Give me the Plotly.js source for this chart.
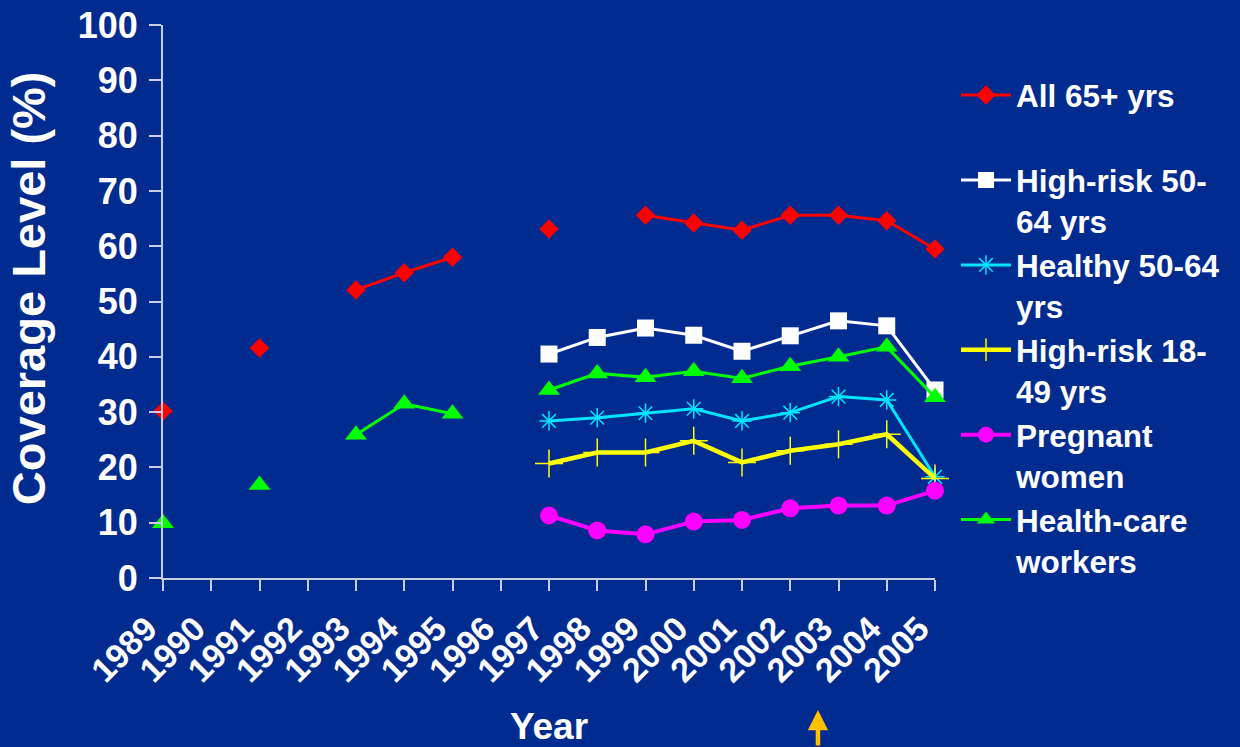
<!DOCTYPE html>
<html>
<head>
<meta charset="utf-8">
<script src="https://cdn.plot.ly/plotly-3.0.1.min.js"></script>
<style>
html,body{margin:0;padding:0;background:#022b90;}
#chart{width:1240px;height:747px;}
</style>
</head>
<body>
<div id="chart"></div>
<script>
const years = [1989,1990,1991,1992,1993,1994,1995,1996,1997,1998,1999,2000,2001,2002,2003,2004,2005];
const tickLabels = years.map(String);
const all65 = [30.2,null,41.6,null,52.1,55.2,58.0,null,63.1,null,65.6,64.2,62.9,65.6,65.6,64.6,59.5];
const highRisk5064 = [null,null,null,null,null,null,null,null,40.5,43.5,45.2,43.9,41.0,43.8,46.5,45.6,34.0];
const healthy5064 = [null,null,null,null,null,null,null,null,28.4,29.0,29.8,30.6,28.4,29.9,32.8,32.2,18.3];
const highRisk1849 = [null,null,null,null,null,null,null,null,20.7,22.7,22.7,24.8,20.9,23.0,24.2,26.0,18.0];
const pregnant = [null,null,null,null,null,null,null,null,11.3,8.6,7.9,10.2,10.5,12.6,13.1,13.1,15.8];
const healthCare = [9.9,null,16.8,null,25.9,31.5,29.7,null,34.0,37.0,36.3,37.4,36.1,38.3,40.0,41.8,32.7];
const seriesNames = ["All 65+ yrs<br>\u00a0","High-risk 50-<br>64 yrs","Healthy 50-64<br>yrs","High-risk 18-<br>49 yrs","Pregnant<br>women","Health-care<br>workers"];

const FONT = "'Liberation Sans', Arial, sans-serif";
function tr(y, name, color, lw, symbol, size, mline){
  const m = {symbol: symbol, size: size, color: color};
  if (mline) m.line = {color: color, width: mline};
  return {x: years, y: y, name: name, type: 'scatter', mode: 'lines+markers',
    line: {color: color, width: lw}, marker: m, connectgaps: false, cliponaxis: false};
}
const data = [
  tr(all65, seriesNames[0], '#FF0000', 3, 'diamond', 15),
  tr(highRisk5064, seriesNames[1], '#FFFFFF', 3, 'square', 17),
  tr(healthy5064, seriesNames[2], '#00E5FF', 3, 'asterisk-open', 16, 1.5),
  tr(highRisk1849, seriesNames[3], '#FFFF00', 4.5, 'cross-thin-open', 20, 1.5),
  tr(pregnant, seriesNames[4], '#FF00FF', 4, 'circle', 18),
  tr(healthCare, seriesNames[5], '#00FF00', 3, 'triangle-up', 19)
];
const axisColor = '#C8CDE0';
const layout = {
  width: 1240, height: 747,
  paper_bgcolor: '#022b90', plot_bgcolor: 'rgba(0,0,0,0)',
  margin: {l: 163, r: 305, t: 25, b: 169, autoexpand: false},
  font: {family: FONT, color: '#FFFFFF'},
  showlegend: true,
  legend: {x: 1.0272, xanchor: 'left', y: 0.922, yanchor: 'top', valign: 'top',
    bgcolor: 'rgba(0,0,0,0)', font: {family: FONT, size: 31.5, color: '#FFFFFF', weight: 'bold'},
    tracegroupgap: 0, itemwidth: 50},
  xaxis: {range: [1989, 2005], tickmode: 'array', tickvals: years, ticktext: tickLabels,
    tickangle: -45, ticks: 'outside', ticklen: 11, tickwidth: 2, tickcolor: axisColor,
    ticklabelshift: -16, ticklabelstandoff: 4, automargin: false,
    showline: true, linecolor: axisColor, linewidth: 2, showgrid: false, zeroline: false,
    tickfont: {family: FONT, size: 34, color: '#FFFFFF', weight: 'bold'},
    title: {text: 'Year', font: {family: FONT, size: 37, color: '#FFFFFF', weight: 'bold'}, standoff: 40}},
  yaxis: {range: [0, 100], tickvals: [0,10,20,30,40,50,60,70,80,90,100],
    ticks: 'outside', ticklen: 12, tickwidth: 2, tickcolor: axisColor, ticklabelstandoff: 4, automargin: false,
    showline: true, linecolor: axisColor, linewidth: 2, showgrid: false, zeroline: false,
    tickfont: {family: FONT, size: 36, color: '#FFFFFF', weight: 'bold'}},
  annotations: [
    {text: 'Coverage Level (%)', textangle: -90, xref: 'paper', yref: 'paper',
     x: -0.175, y: 0.524, xanchor: 'center', yanchor: 'middle', showarrow: false,
     font: {family: FONT, size: 47, color: '#FFFFFF', weight: 'bold'}},
    {text: '', xref: 'paper', yref: 'paper', x: 0.8484, y: -0.2387,
     showarrow: true, ax: 0, ay: 50, arrowcolor: '#FFC000', arrowwidth: 4.5, arrowhead: 2, arrowsize: 0.9}
  ]
};
Plotly.newPlot('chart', data, layout, {staticPlot: true});
</script>
</body>
</html>
